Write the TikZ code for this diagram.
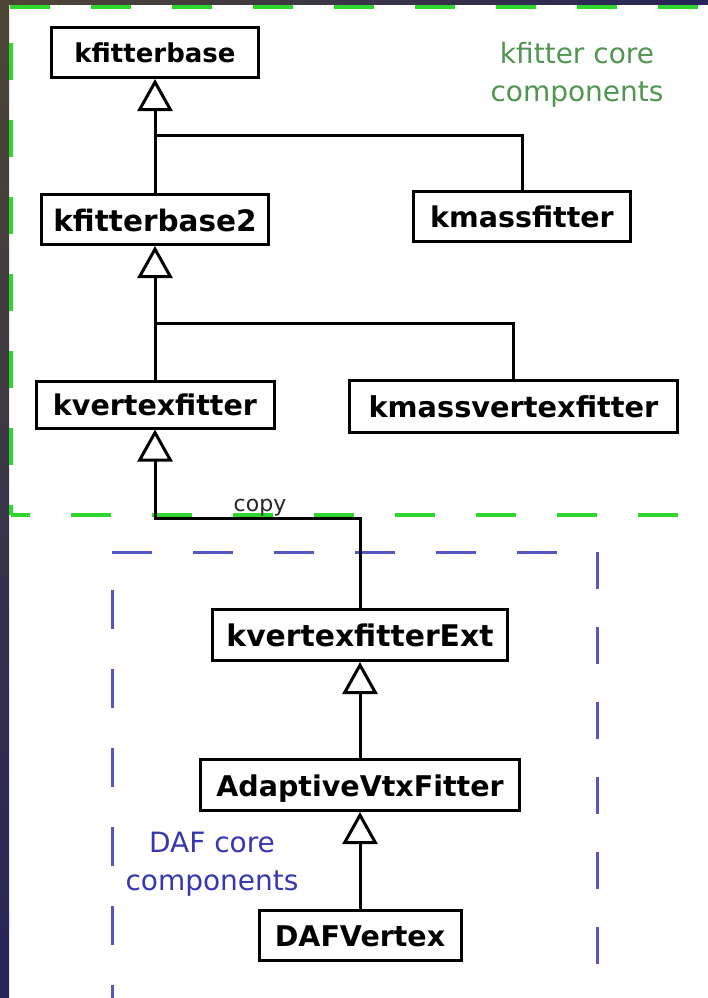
\documentclass[tikz,border=0pt]{standalone}
\usepackage{fontspec}
\setmainfont{DejaVu Sans}
\usetikzlibrary{arrows.meta}
\definecolor{gdash}{RGB}{45,215,45}
\definecolor{bdash}{RGB}{85,85,195}
\definecolor{glab}{RGB}{80,150,80}
\definecolor{blab}{RGB}{55,55,175}
\definecolor{bgolive}{RGB}{78,70,52}
\definecolor{bgnavy}{RGB}{38,36,88}
\begin{document}
\begin{tikzpicture}[x=1pt,y=-1pt,
  cls/.style={draw=black, line width=3pt, fill=white, inner sep=0pt,
    text depth=0pt, minimum height=50pt},
  fs/.style={font=\bfseries\fontsize{#1}{#1}\selectfont, text height={0.78*#1}},
  inh/.style={line width=3pt, -{Triangle[open, length=32pt, width=35pt]}},
  assoc/.style={line width=3pt},
  gline/.style={draw=gdash, line width=4pt, dash pattern=on 40pt off 41pt},
  bline/.style={draw=bdash, line width=3pt, dash pattern=on 39pt off 40pt},
  grouplbl/.style={align=center, font=\fontsize{28}{38}\selectfont}
]
\useasboundingbox (0,0) rectangle (708,998);
% background
\fill[white] (0,0) rectangle (708,998);
\shade[top color=bgolive, bottom color=bgnavy] (0,0) rectangle (9,998);
\shade[left color=bgolive, right color=bgnavy] (0,0) rectangle (708,5);

% group frames
\draw[gline] (10,7) -- (700,7);
\draw[gline, dash pattern=on 37pt off 40pt] (11,43) -- (11,515);
\draw[gline, dash phase=21pt] (11,515) -- (700,515);
\draw[bline, dash pattern=on 40pt off 41pt] (112,552) -- (597,552);
\draw[bline] (112,590) -- (112,998);
\draw[bline, dash pattern=on 37pt off 38pt] (597,552) -- (597,998);

% classes
\node[cls, fs=26, minimum width=207pt] (kfb)  at (155,52.5)  {kfitterbase};
\node[cls, fs=29.5, minimum width=227pt] (kfb2) at (155,219.5) {kfitterbase2};
\node[cls, fs=28.5, minimum width=217pt] (kmf)  at (522,216.5) {kmassfitter};
\node[cls, fs=28.5, minimum width=238pt, minimum height=47pt] (kvf) at (155,404.5) {kvertexfitter};
\node[cls, fs=28.8, minimum width=328pt, minimum height=52pt] (kmvf) at (513.5,406.5) {kmassvertexfitter};
\node[cls, fs=29.8, minimum width=295pt, minimum height=51pt] (ext) at (360,635) {kvertexfitterExt};
\node[cls, fs=28.5, minimum width=319pt, minimum height=51pt] (avf) at (360,785) {AdaptiveVtxFitter};
\node[cls, fs=28.5, minimum width=202pt] (daf) at (360,935.5) {DAFVertex};

% group labels
\node[grouplbl, text=glab] (kcore) at (577,75) {kfitter core\\components};
\node[grouplbl, text=blab] (dcore) at (212,864) {DAF core\\components};

% connectors
\coordinate (j1) at (155,135);
\coordinate (j2) at (155,323);
\coordinate (j3) at (155,518);
\draw[assoc] (kmf.north) |- (j1);
\draw[inh] (kfb2.north) -- (kfb.south);
\draw[assoc] (kmvf.north) |- (j2);
\draw[inh] (kvf.north) -- (kfb2.south);
\draw[inh] (ext.north) |- (j3) -- (kvf.south);
\draw[inh] (avf.north) -- (ext.south);
\draw[inh] (daf.north) -- (avf.south);
\node[font=\fontsize{22}{24}\selectfont, text=black!85, inner sep=0pt] (copy) at (260,508) {copy};
\end{tikzpicture}
\end{document}
